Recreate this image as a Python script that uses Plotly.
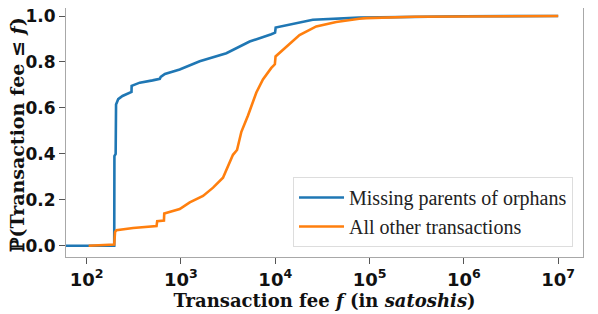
import plotly.graph_objects as go

blue_fee = [10, 196, 197, 203, 205, 216, 240, 299, 300, 366, 500, 597, 610, 676,
            970, 1580, 3030, 5350, 9080, 9950, 10100, 15300, 25000, 77600, 300000, 1000000, 10000000]
blue_cdf = [0.0, 0.0, 0.39, 0.40, 0.615, 0.638, 0.652, 0.670, 0.696, 0.710, 0.720, 0.727, 0.735, 0.748,
            0.767, 0.803, 0.838, 0.889, 0.921, 0.928, 0.950, 0.967, 0.984, 0.993, 0.997, 0.999, 1.0]

# All other transactions (orange)
orange_fee = [105, 190, 196, 200, 207, 311, 551, 560, 660, 665, 970, 1240, 1714, 2190, 2790,
              3560, 3930, 4370, 5140, 6300, 7400, 9080, 9900, 10070, 13060, 18070, 27200,
              44300, 77600, 92000, 300000, 1000000, 10000000]
orange_cdf = [0.0, 0.003, 0.005, 0.060, 0.068, 0.077, 0.086, 0.107, 0.110, 0.141, 0.160, 0.189, 0.217, 0.253, 0.296,
              0.396, 0.417, 0.496, 0.567, 0.667, 0.724, 0.774, 0.790, 0.824, 0.867, 0.917, 0.955,
              0.974, 0.988, 0.991, 0.997, 0.999, 1.0]

x_tickvals = [1e2, 1e3, 1e4, 1e5, 1e6, 1e7]
x_ticktext = ["10<sup>2</sup>", "10<sup>3</sup>", "10<sup>4</sup>", "10<sup>5</sup>", "10<sup>6</sup>", "10<sup>7</sup>"]
y_tickvals = [0.0, 0.2, 0.4, 0.6, 0.8, 1.0]

fig = go.Figure()
fig.add_trace(go.Scatter(x=blue_fee, y=blue_cdf, mode="lines", name="Missing parents of orphans",
                         line=dict(color="#1f77b4", width=2.6)))
fig.add_trace(go.Scatter(x=orange_fee, y=orange_cdf, mode="lines", name="All other transactions",
                         line=dict(color="#ff7f0e", width=2.6)))

axis_common = dict(showline=True, mirror=True, linecolor="#a8a8a8", linewidth=1.2,
                   ticks="outside", ticklen=6, tickwidth=1.2, tickcolor="#555555",
                   showgrid=False, zeroline=False, automargin=False, ticklabeloverflow="allow")

# The page body adds an 8 px offset, so the figure is 8 px smaller than the window
fig.update_layout(
    width=590, height=306,
    margin=dict(l=58, r=15, t=0, b=57),
    paper_bgcolor="white", plot_bgcolor="white",
    showlegend=True,
    legend=dict(x=0.9807, y=0.040, xanchor="right", yanchor="bottom",
                bgcolor="rgba(255,255,255,0.8)", bordercolor="#dddddd", borderwidth=1,
                itemwidth=45,
                font=dict(family="Liberation Serif", size=20, color="#222222")),
    xaxis=dict(type="log", range=[1.781, 7.263], tickvals=x_tickvals, ticktext=x_ticktext,
               tickfont=dict(family="DejaVu Sans", size=18, color="#111111", weight="bold"),
               title=dict(text="Transaction fee <i>f</i> (in <i>satoshis</i>)", standoff=0,
                          font=dict(family="DejaVu Serif", size=18, color="#111111", weight="bold")),
               **axis_common),
    yaxis=dict(range=[-0.0489, 1.035], tickvals=y_tickvals, tickformat=".1f",
               tickfont=dict(family="DejaVu Sans", size=17, color="#111111", weight="bold"),
               **axis_common),
    annotations=[dict(text="ℙ(Transaction fee ≤ <i>f</i>)", textangle=-90,
                      xref="paper", yref="paper", x=-0.095, y=0.494,
                      xanchor="center", yanchor="middle", showarrow=False,
                      font=dict(family="DejaVu Serif", size=19, color="#111111", weight="bold"))],
)

fig.write_html("out.html")
